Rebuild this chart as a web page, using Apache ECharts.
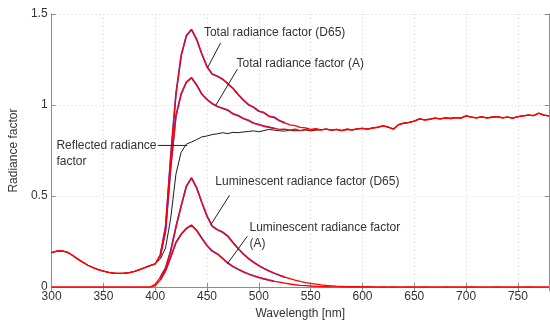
<!DOCTYPE html>
<html>
<head>
<meta charset="utf-8">
<script src="https://cdn.jsdelivr.net/npm/echarts@6/dist/echarts.min.js"></script>
<style>
html,body{margin:0;padding:0;background:#fff;}
#chart{width:550px;height:325px;}
</style>
</head>
<body>
<div id="chart"></div>
<script>
// Wavelength samples (nm)
var wavelength = [300,305,310,315,320,325,330,335,340,345,350,355,360,365,370,375,380,385,390,395,
  400,405,410,415,420,425,430,435,440,445,450,455,460,465,470,475,480,485,490,495,
  500,505,510,515,520,525,530,535,540,545,550,555,560,565,570,575,580,585,590,595,
  600,605,610,615,620,625,630,635,640,645,650,655,660,665,670,675,680,685,690,695,
  700,705,710,715,720,725,730,735,740,745,750,755,760,765,770,775,780];

var reflected = [0.190,0.197,0.199,0.192,0.175,0.155,0.137,0.120,0.107,0.096,0.088,0.081,0.077,0.075,0.076,0.079,0.086,0.096,0.107,0.118,
  0.128,0.155,0.215,0.38,0.62,0.74,0.785,0.797,0.81,0.825,0.83,0.838,0.842,0.848,0.843,0.85,0.848,0.852,0.855,0.858,
  0.853,0.86,0.866,0.862,0.858,0.857,0.862,0.858,0.86,0.863,0.858,0.862,0.864,0.868,0.862,0.866,0.860,0.867,0.863,0.869,
  0.872,0.868,0.874,0.878,0.886,0.878,0.868,0.893,0.900,0.905,0.912,0.924,0.918,0.922,0.928,0.924,0.929,0.926,0.931,0.928,
  0.940,0.934,0.930,0.935,0.929,0.933,0.936,0.930,0.934,0.928,0.936,0.940,0.945,0.942,0.955,0.945,0.940];

var totalD65 = [0.190,0.197,0.199,0.192,0.175,0.155,0.137,0.120,0.107,0.096,0.088,0.081,0.077,0.075,0.076,0.079,0.086,0.096,0.107,0.118,
  0.128,0.18,0.33,0.72,1.06,1.27,1.38,1.415,1.36,1.28,1.21,1.17,1.158,1.142,1.118,1.092,1.058,1.028,1.002,0.988,
  0.966,0.958,0.938,0.932,0.914,0.902,0.891,0.887,0.877,0.874,0.866,0.870,0.864,0.868,0.862,0.866,0.860,0.867,0.863,0.869,
  0.872,0.868,0.874,0.878,0.886,0.878,0.868,0.893,0.900,0.905,0.912,0.924,0.918,0.922,0.928,0.924,0.929,0.926,0.931,0.928,
  0.940,0.934,0.930,0.935,0.929,0.933,0.936,0.930,0.934,0.928,0.936,0.940,0.945,0.942,0.955,0.945,0.940];

var totalA = [0.190,0.197,0.199,0.192,0.175,0.155,0.137,0.120,0.107,0.096,0.088,0.081,0.077,0.075,0.076,0.079,0.086,0.096,0.107,0.118,
  0.128,0.17,0.31,0.66,0.94,1.06,1.125,1.15,1.11,1.06,1.03,1.008,0.992,0.982,0.972,0.952,0.942,0.926,0.916,0.90,
  0.893,0.884,0.878,0.872,0.866,0.868,0.862,0.867,0.860,0.866,0.861,0.866,0.864,0.868,0.862,0.866,0.860,0.867,0.863,0.869,
  0.872,0.868,0.874,0.878,0.886,0.878,0.868,0.893,0.900,0.905,0.912,0.924,0.918,0.922,0.928,0.924,0.929,0.926,0.931,0.928,
  0.940,0.934,0.930,0.935,0.929,0.933,0.936,0.930,0.934,0.928,0.936,0.940,0.945,0.942,0.955,0.945,0.940];

var lumD65 = [0,0,0,0,0,0,0,0,0,0,0,0,0,0,0,0,0,0,0,0,
  0.015,0.055,0.105,0.2,0.33,0.445,0.553,0.6,0.545,0.465,0.39,0.335,0.315,0.302,0.28,0.245,0.212,0.182,0.157,0.136,
  0.118,0.102,0.088,0.076,0.065,0.055,0.046,0.038,0.031,0.025,0.02,0.016,0.012,0.009,0.007,0.005,0.004,0.003,0.002,0.002,
  0.001,0.002,0.001,0,0.001,0,0.001,0,0,0.001,0,0,0.001,0,0,0,0.001,0,0,0,
  0,0.001,0,0,0,0,0.001,0,0,0,0,0,0.001,0,0,0,0];

var lumA = [0,0,0,0,0,0,0,0,0,0,0,0,0,0,0,0,0,0,0,0,
  0.008,0.04,0.09,0.165,0.245,0.29,0.322,0.34,0.312,0.268,0.228,0.198,0.182,0.158,0.132,0.113,0.098,0.084,0.072,0.062,
  0.053,0.045,0.038,0.032,0.027,0.022,0.017,0.013,0.010,0.008,0.006,0.004,0.003,0.002,0.001,0.001,0,0,0,0,
  0,0,0,0,0,0,0,0,0,0,0,0,0,0,0,0,0,0,0,0,
  0,0,0,0,0,0,0,0,0,0,0,0,0,0,0,0,0];

var xTicks = [300,350,400,450,500,550,600,650,700,750];
var yTicks = [0,0.5,1,1.5];

// Annotations: text anchor (data units) and leader line endpoints (data units)
var annoText = ['Total radiance factor (D65)','Total radiance factor (A)','Reflected radiance\nfactor','Luminescent radiance factor (D65)','Luminescent radiance factor\n(A)'];
var annoTextAt = [[447.0,1.400],[478.5,1.232],[304.7,0.778],[458.0,0.580],[491.0,0.330]];
var annoLineFrom = [[463.2,1.342],[479.3,1.197],[402.4,0.778],[471.7,0.504],[488.8,0.279]];
var annoLineTo = [[450.8,1.208],[458.4,0.998],[430.9,0.778],[453.7,0.343],[469.8,0.129]];

function pairs(vals, lo, hi){
  var out=[];
  for(var i=0;i<wavelength.length;i++){
    if(wavelength[i]>=lo && wavelength[i]<=hi) out.push([wavelength[i], vals[i]]);
  }
  return out;
}

var font = '"Liberation Sans", Arial, sans-serif';
var chart = echarts.init(document.getElementById('chart'), null, {renderer:'canvas'});

function lineSeries(name, data, color, width, z){
  return {name:name, type:'line', data:data, showSymbol:false, symbol:'none', animation:false,
    lineStyle:{color:color, width:width}, z:z, xAxisIndex:0, yAxisIndex:0};
}

var series = [
  lineSeries('Reflected', pairs(reflected,300,780), '#1a1a1a', 1, 2),
  lineSeries('D65b', pairs(totalD65,405,525), '#4040ff', 1.7, 3),
  lineSeries('Ab', pairs(totalA,405,515), '#4040ff', 1.7, 3),
  lineSeries('LD65b', pairs(lumD65,405,525), '#4040ff', 1.7, 3),
  lineSeries('LAb', pairs(lumA,405,515), '#4040ff', 1.7, 3),
  lineSeries('D65', pairs(totalD65,300,780), '#ff0000', 1.3, 4),
  lineSeries('A', pairs(totalA,300,780), '#ff0000', 1.3, 4),
  lineSeries('LD65', pairs(lumD65,300,780), '#ff0000', 1.3, 4),
  lineSeries('LA', pairs(lumA,300,780), '#ff0000', 1.3, 4)
];

var axisLineStyle = {show:true, lineStyle:{color:'#8c8c8c', width:1}};
var axisTickStyle = {show:true, inside:true, length:4, lineStyle:{color:'#8c8c8c'}};

chart.setOption({
  animation:false,
  backgroundColor:'#fff',
  grid:{left:43, right:1, top:14, bottom:32, containLabel:false},
  xAxis:[{
    type:'value', min:300, max:780, interval:50, position:'bottom',
    name:'Wavelength [nm]', nameLocation:'middle', nameGap:17,
    nameTextStyle:{color:'#333', fontSize:12, fontFamily:font},
    axisLine:axisLineStyle, axisTick:axisTickStyle,
    axisLabel:{color:'#333', fontSize:12, fontFamily:font, margin:4, showMaxLabel:false,
      formatter:function(v){return xTicks.indexOf(v)>=0 ? String(v) : '';}},
    splitLine:{show:true, lineStyle:{color:'#d2d2d2', type:[1,3], width:1}}
  },{
    type:'value', min:300, max:780, interval:50, position:'top',
    axisLine:axisLineStyle, axisTick:axisTickStyle,
    axisLabel:{show:false}, splitLine:{show:false}
  }],
  yAxis:[{
    type:'value', min:0, max:1.5, interval:0.5, position:'left',
    name:'Radiance factor', nameLocation:'middle', nameGap:24, nameRotate:90,
    nameTextStyle:{color:'#333', fontSize:12, fontFamily:font},
    axisLine:axisLineStyle, axisTick:axisTickStyle,
    axisLabel:{color:'#333', fontSize:12, fontFamily:font, margin:4,
      formatter:function(v){return yTicks.indexOf(v)>=0 ? String(v) : '';}},
    splitLine:{show:true, lineStyle:{color:'#d2d2d2', type:[1,3], width:1}}
  },{
    type:'value', min:0, max:1.5, interval:0.5, position:'right',
    axisLine:axisLineStyle, axisTick:axisTickStyle,
    axisLabel:{show:false}, splitLine:{show:false}
  }],
  series:series
});

var graphics = [];
for(var i=0;i<annoText.length;i++){
  var tp = chart.convertToPixel({xAxisIndex:0, yAxisIndex:0}, annoTextAt[i]);
  var p1 = chart.convertToPixel({xAxisIndex:0, yAxisIndex:0}, annoLineFrom[i]);
  var p2 = chart.convertToPixel({xAxisIndex:0, yAxisIndex:0}, annoLineTo[i]);
  graphics.push({type:'line', shape:{x1:p1[0], y1:p1[1], x2:p2[0], y2:p2[1]},
    style:{stroke:'#222', lineWidth:1}, z:100});
  graphics.push({type:'text', x:tp[0], y:tp[1] - 7.5,
    style:{text:annoText[i], fill:'#333', font:'12px ' + font, textAlign:'left', textVerticalAlign:'top', lineHeight:16}, z:100});
}
chart.setOption({graphic:graphics});
</script>
</body>
</html>
